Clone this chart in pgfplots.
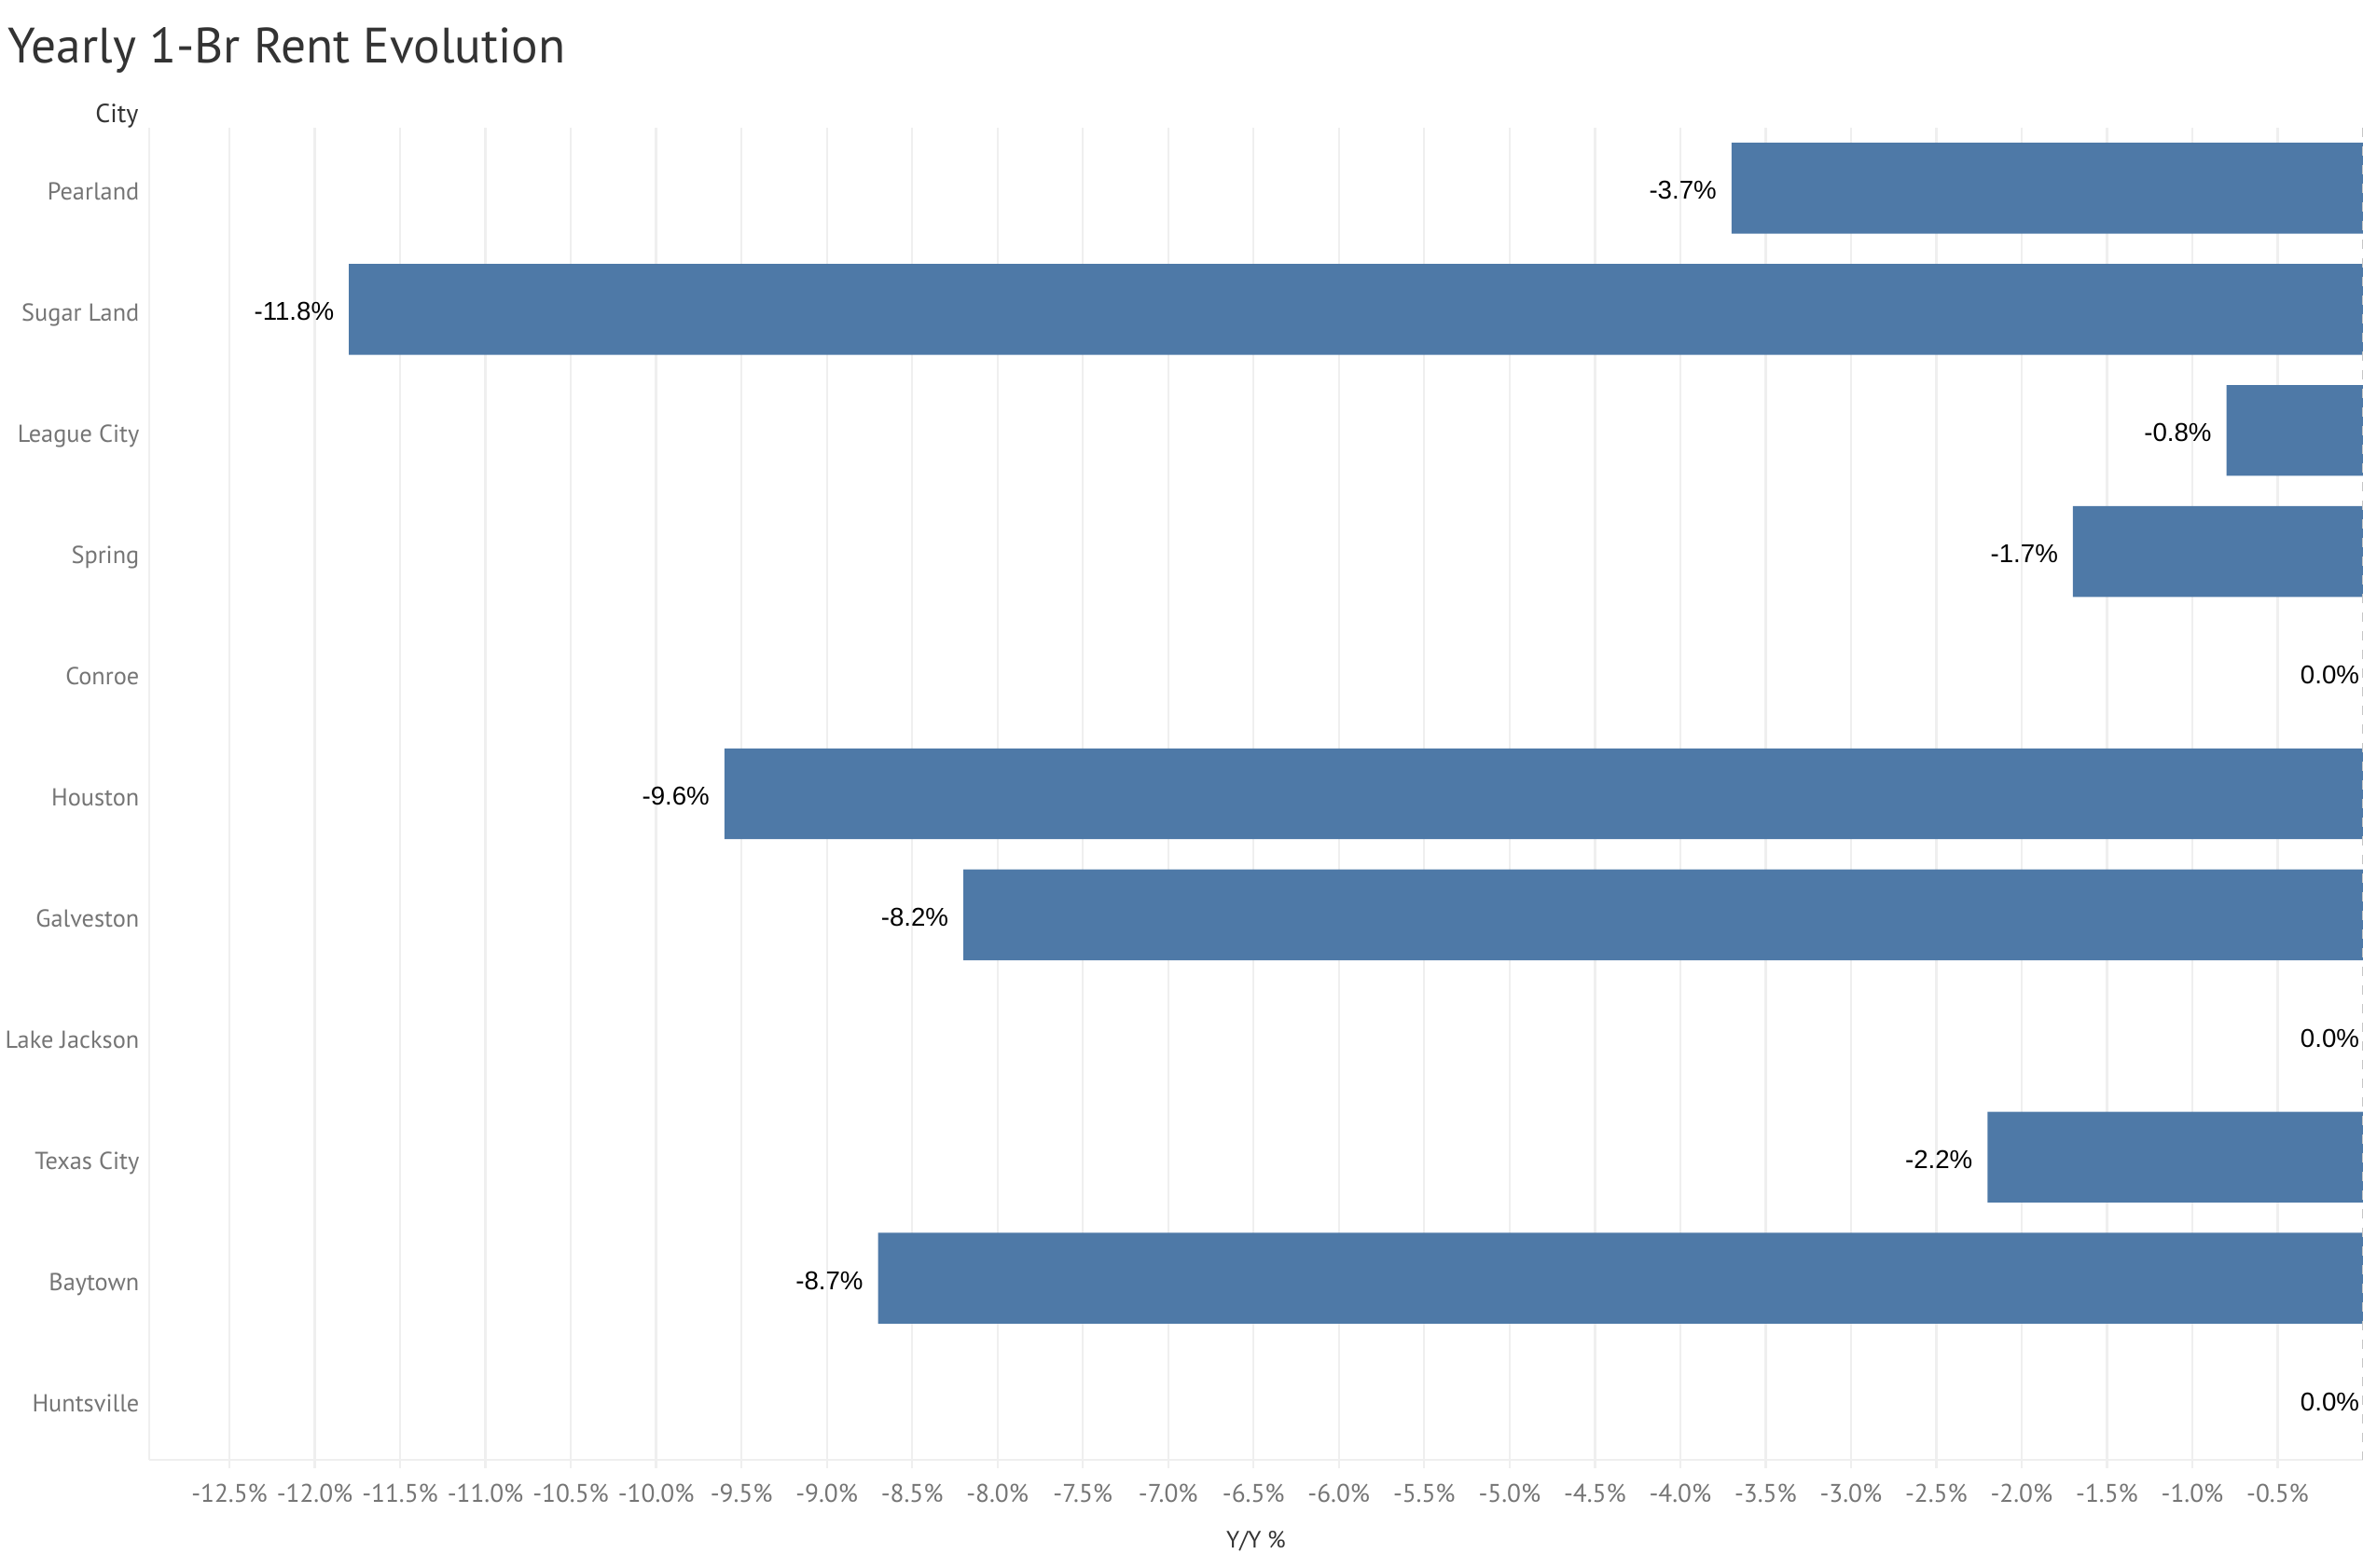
\documentclass[border=0pt]{standalone}
\usepackage{pgfplots}
\pgfplotsset{compat=1.18}
\usepackage{fontspec}
\setmainfont{PT Sans}
\newfontfamily\valfont{Liberation Sans}

\definecolor{barblue}{HTML}{4E79A7}
\definecolor{gridgray}{HTML}{EFEFEF}
\definecolor{ticktext}{HTML}{757575}
\definecolor{darktext}{HTML}{333333}

% one-bedroom rent change, year over year, in percent
\pgfplotstableread{
idx change
0  -3.7
1  -11.8
2  -0.8
3  -1.7
4  0.0
5  -9.6
6  -8.2
7  0.0
8  -2.2
9  -8.7
10 0.0
}\rentdata

\begin{document}
\begin{tikzpicture}[x=1pt,y=1pt]
\useasboundingbox (0,0) rectangle (760.2,504.6);
\node[anchor=base west, inner sep=0pt, text=darktext, font=\fontsize{16}{19}\selectfont]
  at (2.4,484.2) {Yearly 1-Br Rent Evolution};
\begin{axis}[
  at={(48pt,34.8pt)}, anchor=south west,
  scale only axis, width=712.2pt, height=428.7pt,
  xbar, bar width=0.75,
  xmin=-12.97, xmax=0,
  ymin=-0.5, ymax=10.5, y dir=reverse,
  axis x line*=bottom, axis y line*=left,
  axis line style={gridgray, line width=0.7pt, -},
  xmajorgrids, grid style={gridgray, line width=0.7pt},
  ytick={0,...,10},
  yticklabels={Pearland,Sugar Land,League City,Spring,Conroe,Houston,Galveston,Lake Jackson,Texas City,Baytown,Huntsville},
  ytick style={draw=none},
  yticklabel style={anchor=base east, inner sep=0pt, xshift=-0.4pt, yshift=-3.9pt, text=ticktext, font=\fontsize{7.9}{9}\selectfont},
  xtick={-12.5,-12,-11.5,-11,-10.5,-10,-9.5,-9,-8.5,-8,-7.5,-7,-6.5,-6,-5.5,-5,-4.5,-4,-3.5,-3,-2.5,-2,-1.5,-1,-0.5},
  xtick style={gridgray, line width=0.7pt},
  major tick length=2.6pt,
  tick align=outside,
  xticklabel={\pgfmathprintnumber[fixed,fixed zerofill,precision=1,assume math mode=true]{\tick}\%},
  xticklabel style={anchor=base, inner sep=0pt, yshift=-11.1pt, text=ticktext, font=\fontsize{8.2}{10}\selectfont},
  xlabel={Y/Y \%},
  xlabel style={at={(axis description cs:0.5,0)}, anchor=base, inner sep=0pt, yshift=-28.2pt, text=darktext, font=\fontsize{7.6}{9}\selectfont},
  clip=false,
]
\addplot[draw=none, fill=barblue,
  visualization depends on={rawx \as \chg},
  nodes near coords={\pgfmathprintnumber[fixed,fixed zerofill,precision=1,assume math mode=true]{\pgfplotspointmeta}\%},
  nodes near coords style={anchor=base east, inner xsep=4.6pt, inner ysep=0pt, yshift=-3.6pt,
    xshift={ifthenelse(\chg==0,3.6pt,0pt)}, text=black, font=\valfont\fontsize{8.3}{10}\selectfont},
] table[x=change, y=idx] {\rentdata};
\draw[gray!45, dashed, line width=0.6pt] (axis cs:0,-0.5) -- (axis cs:0,10.5);
\end{axis}
\node[anchor=base east, inner sep=0pt, text=darktext, font=\fontsize{8.4}{10}\selectfont]
  at (44.7,465.1) {City};
\end{tikzpicture}
\end{document}
